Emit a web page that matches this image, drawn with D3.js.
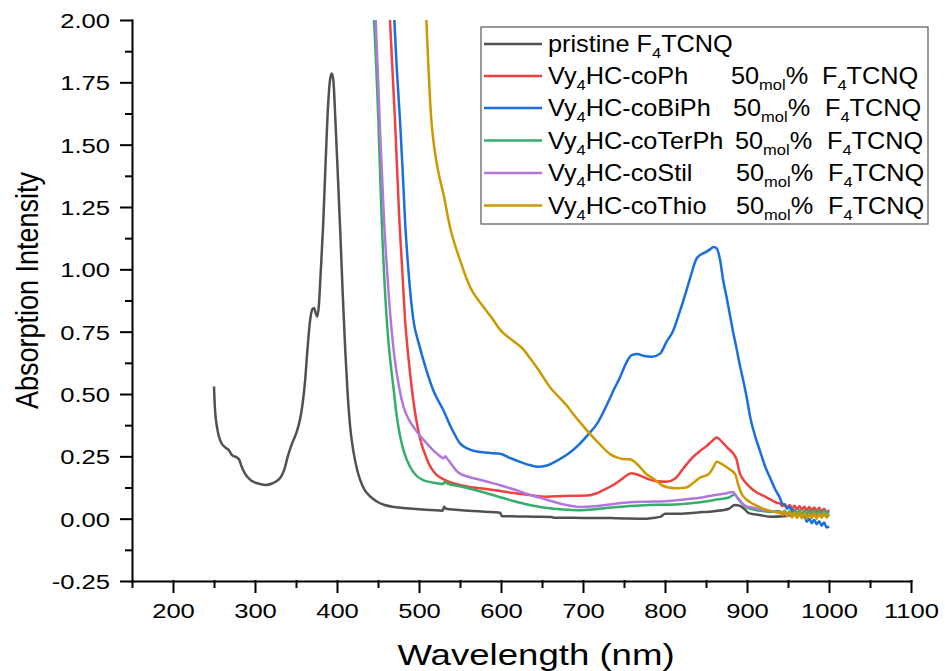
<!DOCTYPE html>
<html>
<head>
<meta charset="utf-8">
<script src="https://cdn.jsdelivr.net/npm/d3@7"></script>
<style>
  html, body { margin: 0; padding: 0; background: #fff; }
  svg { display: block; font-family: "Liberation Sans", Arial, sans-serif; }
</style>
</head>
<body>
<svg id="chart" width="945" height="671"></svg>
<script>
// ---- Absorption spectra (wavelength in nm, absorbance) ----
const pristineWl = [250,251,254,258,264,268,272,278,281,283,288,293,298,305,314,320,326,332,336,340,345,350,355,358,361,364,367,370,372,374,376,378,380,383,386,389,391.5,393.5,395.5,398,401,404,407,410,413,416,420,425,432,440,448,458,470,485,500,515,529,530.5,533,545,560,580,599,601,620,640,662,664,700,740,778,785,795,800,818,840,860,878,885,892,898,902,915,928,945,960,975,990,1000];
const pristineAbs = [0.53,0.45,0.36,0.31,0.285,0.275,0.255,0.245,0.235,0.215,0.18,0.16,0.148,0.14,0.135,0.14,0.15,0.17,0.2,0.25,0.3,0.34,0.4,0.46,0.55,0.68,0.79,0.84,0.845,0.825,0.81,0.86,0.98,1.17,1.42,1.65,1.76,1.785,1.76,1.6,1.38,1.15,0.9,0.68,0.5,0.37,0.27,0.19,0.125,0.09,0.07,0.055,0.047,0.042,0.038,0.035,0.032,0.048,0.04,0.036,0.032,0.028,0.024,0.01,0.009,0.008,0.007,0.004,0.003,0.002,0.0,0.003,0.008,0.02,0.02,0.025,0.03,0.04,0.055,0.05,0.035,0.022,0.015,0.008,0.01,0.015,0.012,0.015,0.01];

const phWl = [463,464.6,470.7,476,479.5,483,487,491,495,499,503,507,512,519.5,530,541.8,560,574,590.6,615,635,656,676,690,705,715,725,737,748,754,759,765,777,790,802,812,822,832,843,851,857,863,869,876,883,887,891,897,904,912,920,928,936,940,943,946,949,952,955,958,961,964,967,970,973,976,979,982,985,988,991,994,997,1000];
const phAbs = [2.12,2.0,1.6,1.2,1.0,0.8,0.65,0.529,0.43,0.356,0.3,0.262,0.22,0.182,0.158,0.142,0.128,0.122,0.115,0.103,0.095,0.088,0.091,0.092,0.093,0.1,0.115,0.135,0.16,0.175,0.182,0.178,0.162,0.15,0.148,0.16,0.2,0.24,0.272,0.292,0.31,0.326,0.31,0.285,0.262,0.24,0.185,0.15,0.125,0.105,0.092,0.078,0.064,0.062,0.05,0.058,0.045,0.055,0.04,0.052,0.038,0.05,0.036,0.048,0.034,0.047,0.032,0.045,0.03,0.044,0.028,0.04,0.026,0.035];

const biphWl = [468.5,469.9,473,476.8,480,482.9,487,493,500,509,518,529.6,540,550,560,570.4,585,599,610,623,635,645,655,668,682,696,707,717,731,738,745,752,759,766,775,784,794,802,810,818,826,832,838,843,849,855,859,863,867,871,875,879,883,887,891,895.5,900,904,910,916,922,928,934,940,943,946,949,952,955,958,961,964,967,970,973,976,979,982,985,988,991,994,997,1000];
const biphAbs = [2.1,2.0,1.8,1.6,1.4,1.2,1.0,0.8,0.7,0.596,0.51,0.436,0.36,0.302,0.28,0.269,0.264,0.26,0.245,0.228,0.215,0.208,0.212,0.232,0.26,0.3,0.34,0.38,0.47,0.52,0.566,0.62,0.655,0.66,0.652,0.649,0.662,0.71,0.754,0.83,0.914,0.98,1.04,1.058,1.068,1.08,1.09,1.085,1.04,0.955,0.89,0.82,0.75,0.687,0.62,0.553,0.48,0.406,0.33,0.27,0.21,0.165,0.12,0.084,0.06,0.055,0.04,0.048,0.03,0.035,0.018,0.028,0.005,0.012,-0.012,0.0,-0.018,-0.005,-0.022,-0.01,-0.028,-0.015,-0.035,-0.03];

const terphWl = [443,445.1,450.4,454.5,460.6,464.5,468.7,472.5,477,482,489,496,505,515,529.6,531,534,550,574,595,615,635,656,675,696,715,735,757,780,800,818,840,860,878,885,889,894,900,910,920,930,940,943,946,949,952,955,958,961,964,967,970,973,976,979,982,985,988,991,994,997,1000];
const terphAbs = [2.1,2.0,1.6,1.2,0.8,0.65,0.53,0.42,0.33,0.265,0.208,0.175,0.155,0.146,0.139,0.148,0.142,0.13,0.11,0.09,0.071,0.055,0.043,0.037,0.034,0.038,0.045,0.051,0.055,0.056,0.058,0.065,0.075,0.085,0.097,0.08,0.06,0.045,0.035,0.03,0.027,0.03,0.022,0.032,0.018,0.03,0.015,0.032,0.017,0.034,0.016,0.033,0.018,0.035,0.016,0.033,0.018,0.034,0.015,0.032,0.02,0.03];

const stilWl = [445.5,447.2,452,457.3,461,465.4,470,475.6,481,487.8,495,502,510,518,524,530,532,535,548,560,574,589,600,615,635,656,675,696,715,735,757,780,800,826,845,859,872,883,887,892,898,907,916,930,940,943,946,949,952,955,958,961,964,967,970,973,976,979,982,985,988,991,994,997,1000];
const stilAbs = [2.1,2.0,1.6,1.2,1.0,0.8,0.65,0.53,0.45,0.396,0.36,0.329,0.3,0.272,0.255,0.242,0.25,0.238,0.185,0.168,0.156,0.143,0.133,0.118,0.096,0.076,0.058,0.047,0.05,0.058,0.066,0.068,0.07,0.078,0.085,0.094,0.1,0.107,0.09,0.07,0.051,0.044,0.038,0.03,0.025,0.015,0.024,0.01,0.022,0.008,0.02,0.006,0.02,0.008,0.021,0.007,0.02,0.008,0.022,0.006,0.02,0.01,0.022,0.008,0.02];

const thioWl = [507.5,509,515,519,523,529.6,537.8,550,562.2,578.5,590,599,610,620,627,635,645,655,660,670,680,688,698,708.5,720,733,742,749,757,762,770,777.6,786,798,806,815,826,835,843,853,858,863,869,875.6,885.7,889,893.7,900,908,916,928,938,940,943,946,949,952,955,958,961,964,967,970,973,976,979,982,985,988,991,994,997,1000];
const thioAbs = [2.12,2.0,1.6,1.48,1.4,1.305,1.17,1.037,0.93,0.85,0.8,0.757,0.725,0.7,0.68,0.645,0.6,0.55,0.526,0.49,0.455,0.42,0.38,0.34,0.3,0.259,0.245,0.239,0.238,0.23,0.205,0.178,0.16,0.131,0.124,0.122,0.125,0.145,0.165,0.178,0.2,0.228,0.22,0.205,0.178,0.14,0.098,0.075,0.058,0.045,0.031,0.025,0.028,0.015,0.03,0.01,0.028,0.005,0.025,0.003,0.024,0.002,0.022,0.0,0.02,0.002,0.022,0.0,0.02,0.003,0.022,0.005,0.018];

const seriesNames = ["pristine", "Vy4HC-coPh", "Vy4HC-coBiPh", "Vy4HC-coTerPh", "Vy4HC-coStil", "Vy4HC-coThio"];
const seriesColors = ["#515151", "#F14040", "#1A6FDF", "#37AD6B", "#B177DE", "#CC9900"];

const xTicks = [200,300,400,500,600,700,800,900,1000,1100];
const xMinorTicks = [150,250,350,450,550,650,750,850,950,1050];
const yTicks = [-0.25,0,0.25,0.5,0.75,1.0,1.25,1.5,1.75,2.0];
const yMinorTicks = [-0.125,0.125,0.375,0.625,0.875,1.125,1.375,1.625,1.875];

// ---- layout ----
const svg = d3.select("#chart");
const plot = { left: 132, right: 911, top: 20, bottom: 581 };

const x = d3.scaleLinear().domain([150, 1100]).range([plot.left, plot.right]);
const y = d3.scaleLinear().domain([-0.25, 2.0]).range([plot.bottom, plot.top]);

svg.append("defs").append("clipPath").attr("id", "plotClip")
  .append("rect")
  .attr("x", plot.left).attr("y", plot.top)
  .attr("width", plot.right - plot.left + 20).attr("height", plot.bottom - plot.top);

// ---- spectra ----
const spectra = [
  [pristineWl, pristineAbs],
  [phWl, phAbs],
  [biphWl, biphAbs],
  [terphWl, terphAbs],
  [stilWl, stilAbs],
  [thioWl, thioAbs]
].map(([wl, ab], i) => ({
  name: seriesNames[i],
  color: seriesColors[i],
  points: wl.map((w, k) => ({ w, a: ab[k] }))
}));

const line = d3.line()
  .x(d => x(d.w))
  .y(d => y(d.a))
  .curve(d3.curveMonotoneX);

svg.append("g").attr("clip-path", "url(#plotClip)")
  .selectAll("path")
  .data(spectra)
  .join("path")
  .attr("d", d => line(d.points))
  .attr("fill", "none")
  .attr("stroke", d => d.color)
  .attr("stroke-width", 2.5)
  .attr("stroke-linejoin", "round");

// ---- axes ----
const tickSX = 1.22;
const fmt2 = d3.format(".2f");
const yFormat = d => fmt2(d).replace("\u2212", "-");

const xAxis = svg.append("g")
  .attr("transform", `translate(0,${plot.bottom})`)
  .call(d3.axisBottom(x).tickValues(xTicks).tickSize(11).tickSizeOuter(0).tickPadding(11).tickFormat(d3.format("d")));
xAxis.selectAll("text")
  .attr("font-size", 21)
  .attr("fill", "#000")
  .attr("font-family", "'Liberation Sans', Arial, sans-serif")
  .attr("transform", `scale(${tickSX},1)`);

const xMinor = svg.append("g")
  .attr("transform", `translate(0,${plot.bottom})`)
  .call(d3.axisBottom(x).tickValues(xMinorTicks).tickSize(6).tickSizeOuter(0).tickFormat(""));
xMinor.select(".domain").remove();

const yAxis = svg.append("g")
  .attr("transform", `translate(${plot.left},0)`)
  .call(d3.axisLeft(y).tickValues(yTicks).tickSize(11).tickSizeOuter(0).tickFormat(yFormat));
yAxis.selectAll("text")
  .attr("font-size", 21)
  .attr("fill", "#000")
  .attr("font-family", "'Liberation Sans', Arial, sans-serif")
  .attr("x", -22 / tickSX)
  .attr("dy", "0.36em")
  .attr("transform", `scale(${tickSX},1)`);

const yMinor = svg.append("g")
  .attr("transform", `translate(${plot.left},0)`)
  .call(d3.axisLeft(y).tickValues(yMinorTicks).tickSize(6).tickSizeOuter(0).tickFormat(""));
yMinor.select(".domain").remove();

svg.selectAll(".domain, .tick line")
  .attr("stroke", "#000")
  .attr("stroke-width", 2)
  .attr("stroke-linecap", "square");

// ---- axis titles ----
svg.append("text")
  .attr("transform", `translate(536,665) scale(1.22,1)`)
  .attr("text-anchor", "middle")
  .attr("font-size", 30)
  .attr("fill", "#000")
  .text("Wavelength (nm)");

svg.append("text")
  .attr("transform", `translate(38,290.5) scale(1.13,1) rotate(-90)`)
  .attr("text-anchor", "middle")
  .attr("font-size", 27)
  .attr("fill", "#000")
  .text("Absorption Intensity");

// ---- legend ----
const legend = svg.append("g");
legend.append("rect")
  .attr("x", 481).attr("y", 27)
  .attr("width", 447).attr("height", 197)
  .attr("fill", "#fff")
  .attr("stroke", "#555")
  .attr("stroke-width", 1.2);

const legendRowY = [44, 76, 108, 140.5, 173, 205.5];
const legendLabelParts = [
  ["pristine F", "4", "TCNQ"],
  ["Vy", "4", "HC-coPh"],
  ["Vy", "4", "HC-coBiPh"],
  ["Vy", "4", "HC-coTerPh"],
  ["Vy", "4", "HC-coStil"],
  ["Vy", "4", "HC-coThio"]
];
const legendMolX = [null, 731, 733, 735, 736, 736];
const legendDopantX = [null, 822, 825, 827, 828, 828];
const legSX = 1.1;
const legFont = 23;
const subFont = 15;

function stretchedText(px, py, parts) {
  // parts alternate: normal, subscript, normal, ...
  const t = legend.append("text")
    .attr("transform", `translate(${px},${py}) scale(${legSX},1)`)
    .attr("font-size", legFont)
    .attr("fill", "#000");
  parts.forEach((p, i) => {
    const sub = i % 2 === 1;
    const prevSub = i > 0 && (i - 1) % 2 === 1;
    t.append("tspan")
      .attr("font-size", sub ? subFont : legFont)
      .attr("dy", sub ? 6 : (prevSub ? -6 : 0))
      .text(p);
  });
}

spectra.forEach((s, i) => {
  const ry = legendRowY[i];
  legend.append("line")
    .attr("x1", 484).attr("x2", 542)
    .attr("y1", ry).attr("y2", ry)
    .attr("stroke", s.color)
    .attr("stroke-width", 2.5);
  const base = ry + 8;
  stretchedText(548, base, legendLabelParts[i]);
  if (legendMolX[i] !== null) {
    stretchedText(legendMolX[i], base, ["50", "mol", "%"]);
    stretchedText(legendDopantX[i], base, ["F", "4", "TCNQ"]);
  }
});
</script>
</body>
</html>
